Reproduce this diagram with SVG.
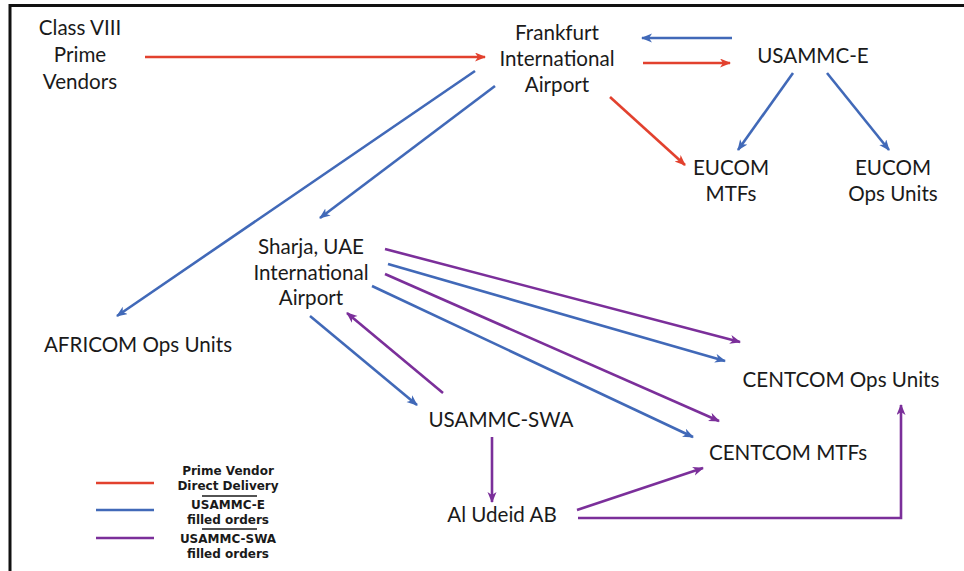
<svg xmlns="http://www.w3.org/2000/svg" width="964" height="571" viewBox="0 0 964 571">
<style>
.t{font-family:Lato,"Open Sans","Liberation Sans",sans-serif;font-size:20.6px;fill:#1a1a1a;text-anchor:middle}
.lg{font-family:"DejaVu Sans","Liberation Sans",sans-serif;font-size:12px;font-weight:bold;fill:#1a1a1a;text-anchor:middle}
.r{stroke:#e2412e;stroke-width:2.6;fill:none}
.b{stroke:#4169b8;stroke-width:2.6;fill:none}
.p{stroke:#7b2f9a;stroke-width:2.6;fill:none}
.r.a{marker-end:url(#mr)}
.b.a{marker-end:url(#mb)}
.p.a{marker-end:url(#mp)}
</style>
<defs>
<marker id="mr" markerUnits="userSpaceOnUse" markerWidth="12" markerHeight="10" refX="10" refY="4.5" orient="auto"><path d="M0,0 L11,4.5 L0,9 L3,4.5 z" fill="#e2412e"/></marker>
<marker id="mb" markerUnits="userSpaceOnUse" markerWidth="12" markerHeight="10" refX="10" refY="4.5" orient="auto"><path d="M0,0 L11,4.5 L0,9 L3,4.5 z" fill="#4169b8"/></marker>
<marker id="mp" markerUnits="userSpaceOnUse" markerWidth="12" markerHeight="10" refX="10" refY="4.5" orient="auto"><path d="M0,0 L11,4.5 L0,9 L3,4.5 z" fill="#7b2f9a"/></marker>
</defs>
<rect width="964" height="571" fill="#fff"/>
<g id="frame" stroke="#111" stroke-width="3" fill="none">
<path d="M10,571 L10,5.5 L964,5.5"/>
</g>
<g id="connectors">
<line class="r a" x1="145" y1="57" x2="485" y2="57"/>
<line class="b a" x1="732" y1="38" x2="642" y2="38"/>
<line class="r a" x1="643" y1="63" x2="730" y2="63"/>
<line class="b a" x1="793" y1="73" x2="738" y2="150"/>
<line class="b a" x1="827" y1="73" x2="889" y2="150"/>
<line class="r a" x1="610" y1="97" x2="685" y2="165"/>
<line class="b a" x1="475" y1="71" x2="117" y2="316"/>
<line class="b a" x1="495" y1="86" x2="320" y2="218"/>
<line class="p a" x1="385" y1="249" x2="740" y2="342"/>
<line class="b a" x1="388" y1="264" x2="725" y2="361"/>
<line class="p a" x1="385" y1="274" x2="719" y2="421"/>
<line class="b a" x1="372" y1="286" x2="693" y2="437"/>
<line class="b a" x1="310" y1="316" x2="417" y2="405"/>
<line class="p a" x1="443" y1="393" x2="347" y2="313"/>
<line class="p a" x1="492" y1="437" x2="492" y2="502"/>
<line class="p a" x1="577" y1="510" x2="703" y2="468"/>
<polyline class="p a" points="578,518 901,518 901,405"/>
</g>
<g id="class-viii">
<text class="t" x="80" y="35">Class VIII</text>
<text class="t" x="80" y="62">Prime</text>
<text class="t" x="80" y="89">Vendors</text>
</g>
<g id="frankfurt">
<text class="t" x="557" y="40">Frankfurt</text>
<text class="t" x="557" y="66">International</text>
<text class="t" x="557" y="92">Airport</text>
</g>
<g id="usammc-e">
<text class="t" x="813" y="63">USAMMC-E</text>
</g>
<g id="eucom-mtfs">
<text class="t" x="731" y="175">EUCOM</text>
<text class="t" x="731" y="201">MTFs</text>
</g>
<g id="eucom-ops">
<text class="t" x="893" y="175">EUCOM</text>
<text class="t" x="893" y="201">Ops Units</text>
</g>
<g id="sharja">
<text class="t" x="311" y="254">Sharja, UAE</text>
<text class="t" x="311" y="280">International</text>
<text class="t" x="311" y="305">Airport</text>
</g>
<g id="africom">
<text class="t" x="138" y="352">AFRICOM Ops Units</text>
</g>
<g id="centcom-ops">
<text class="t" x="841" y="387">CENTCOM Ops Units</text>
</g>
<g id="usammc-swa">
<text class="t" x="501" y="427">USAMMC-SWA</text>
</g>
<g id="centcom-mtfs">
<text class="t" x="788" y="460">CENTCOM MTFs</text>
</g>
<g id="al-udeid">
<text class="t" x="502" y="522">Al Udeid AB</text>
</g>
<g id="legend">
<line class="r" x1="96" y1="483" x2="154" y2="483"/>
<line class="b" x1="96" y1="510" x2="154" y2="510"/>
<line class="p" x1="96" y1="538" x2="154" y2="538"/>
<text class="lg" x="228" y="475">Prime Vendor</text>
<text class="lg" x="228" y="490">Direct Delivery</text>
<line x1="202" y1="496" x2="257" y2="496" stroke="#1a1a1a" stroke-width="1.5"/>
<text class="lg" x="228" y="509">USAMMC-E</text>
<text class="lg" x="228" y="524">filled orders</text>
<line x1="202" y1="529" x2="257" y2="529" stroke="#1a1a1a" stroke-width="1.5"/>
<text class="lg" x="228" y="543">USAMMC-SWA</text>
<text class="lg" x="228" y="558">filled orders</text>
</g>
</svg>
